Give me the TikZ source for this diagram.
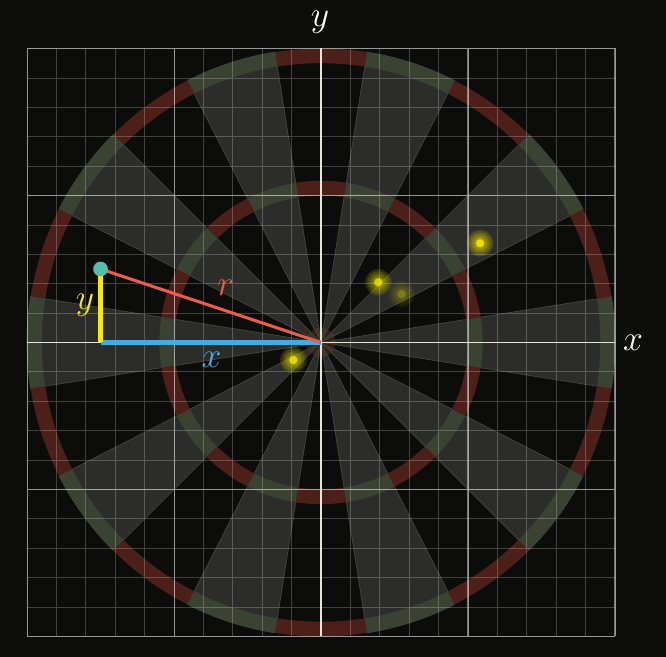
\documentclass[tikz,border=0pt]{standalone}
\definecolor{bgc}{RGB}{12,13,11}
\definecolor{wedgec}{RGB}{44,45,42}
\definecolor{wedgeedge}{RGB}{68,70,65}
\definecolor{ringred}{RGB}{76,32,24}
\definecolor{ringgreen}{RGB}{58,66,50}
\definecolor{axisc}{RGB}{228,228,220}
\definecolor{bluec}{RGB}{70,172,222}
\definecolor{yellowc}{RGB}{250,232,10}
\definecolor{redc}{RGB}{232,92,74}
\definecolor{tealc}{RGB}{86,190,168}
\definecolor{glowc}{RGB}{240,228,0}
\newcommand{\glowdot}[4]{%
  \foreach \rr in {0.09,0.075,0.06,0.048,0.038} {\fill[glowc, opacity=#3] (#1,#2) circle[radius=\rr];}
  \fill[glowc, opacity=#4] (#1,#2) circle[radius=0.028];}
\begin{document}
\begin{tikzpicture}[x=3cm,y=3cm,
  lab/.style={font=\fontsize{21}{21}\selectfont, inner sep=0pt},
  wedgefill/.style={fill=wedgec, draw=wedgeedge, line width=0.4pt},
  minorgrid/.style={white, opacity=0.22, line width=0.45pt},
  majorgrid/.style={white, opacity=0.45, line width=0.6pt},
  axisline/.style={axisc, line width=1pt}]
\useasboundingbox (-2.184,-2.139) rectangle (2.347,2.330);
\fill[bgc] (-2.184,-2.139) rectangle (2.347,2.330);
% wedges
\foreach \a [evaluate=\a as \b using \a+18] in {-9,27,...,315} {
  \filldraw[wedgefill] (0,0) -- (\a:2) arc[start angle=\a, end angle=\b, radius=2] -- cycle;
}
% rings
\foreach \a [evaluate=\a as \b using \a+18, evaluate=\a as \c using \a+36] in {-9,27,...,315} {
  \foreach \ri/\ro in {1.9/2.0, 1.0/1.1} {
    \fill[ringgreen] (\a:\ro) arc[start angle=\a, end angle=\b, radius=\ro] -- (\b:\ri) arc[start angle=\b, end angle=\a, radius=\ri] -- cycle;
    \fill[ringred] (\b:\ro) arc[start angle=\b, end angle=\c, radius=\ro] -- (\c:\ri) arc[start angle=\c, end angle=\b, radius=\ri] -- cycle;
  }
  \fill[ringgreen, opacity=0.7] (0,0) -- (\a:0.1) arc[start angle=\a, end angle=\b, radius=0.1] -- cycle;
  \fill[ringred, opacity=0.7] (0,0) -- (\b:0.1) arc[start angle=\b, end angle=\c, radius=0.1] -- cycle;
}
% grid
\draw[minorgrid] (-2,-2) grid[step=0.2] (2,2);
\draw[majorgrid] (-2,-2) grid[step=1] (2,2);
% axes
\coordinate (xl) at (-2,0); \coordinate (xr) at (2,0);
\coordinate (yb) at (0,-2); \coordinate (yt) at (0,2);
\draw[axisline] (xl) -- (xr);
\draw[axisline] (yb) -- (yt);
% glowing dots
\glowdot{1.082}{0.675}{0.17}{0.95}
\glowdot{0.390}{0.410}{0.14}{0.8}
\glowdot{0.549}{0.328}{0.06}{0.25}
\glowdot{-0.188}{-0.119}{0.15}{0.85}
% triangle
\coordinate (O) at (0,0);
\coordinate (F) at (-1.5,0);
\coordinate (P) at (-1.5,0.5);
\draw[bluec, line width=2.7pt] (F) -- (O);
\draw[yellowc, line width=2.5pt] (F) -- (P);
\draw[redc, line width=1.8pt] (P) -- (O);
\node[circle, fill=tealc, minimum size=0.3cm, inner sep=0pt] (dot) at (P) {};
% labels
\node[lab, text=yellowc] (ly) at (-1.605,0.255) {$y$};
\node[lab, text=bluec] (lx) at (-0.744,-0.119) {$x$};
\node[lab, text=redc] (lr) at (-0.648,0.369) {$r$};
\node[lab, text=white] (ax) at (2.122,0) {$x$};
\node[lab, text=white] (ay) at (-0.007,2.18) {$y$};
\end{tikzpicture}
\end{document}
